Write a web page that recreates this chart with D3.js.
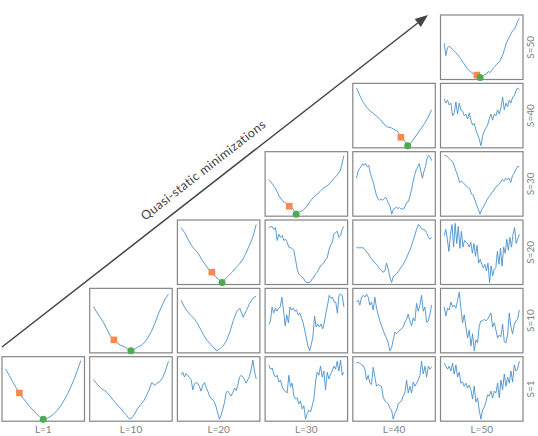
<!DOCTYPE html>
<html>
<head>
<meta charset="utf-8">
<script src="https://cdn.jsdelivr.net/npm/d3@7"></script>
<style>
  html, body { margin: 0; padding: 0; background: #fff; }
  svg { display: block; }
</style>
</head>
<body>
<div id="chart"></div>
<script>
// ---- categories ----
const Ls = [1, 10, 20, 30, 40, 50];
const Ss = [1, 10, 20, 30, 40, 50];
const titleText = "Quasi-static minimizations";

// ---- series values (relative energy, 0 = minimum, 100 = panel top) ----
// S = 1 row
const s1_l1  = [82,72,62,52,43,35,28,21,15,9,4,0,1,4,8,14,21,30,40,52,65,80,96];
const s1_l10 = [65,59,54,50,47,43,38,32,27,21,17,11,6,0,3,10,18,24,29,38,48,60,56,59,62,69,81,95];
const s1_l20 = [73,77,69,75,72,68,65,48,58,60,59,53,46,56,60,52,46,38,34,32,28,20,9,0,7,17,27,44,46,42,38,44,51,47,56,69,72,69,65,59,65,70,82,97,79,66];
const s1_l30 = [89,82,84,74,69,72,61,64,53,48,46,43,72,53,59,38,33,35,25,30,17,22,0,9,15,12,22,33,61,77,72,87,69,79,48,77,66,74,79,87,82,95,79,97,72,77];
const s1_l40 = [92,93,92,89,88,82,64,72,59,57,85,69,54,57,55,54,36,30,28,25,18,15,0,10,15,25,28,30,38,43,64,43,54,43,61,54,59,64,72,95,74,87,69,87,82,86];
const s1_l50 = [92,87,82,87,79,92,74,89,69,77,59,61,54,59,51,56,48,33,54,28,35,15,0,15,20,28,40,38,46,35,46,43,59,35,64,48,74,54,69,59,79,61,89,79,82,95];
// S = 10 row
const s10_l10 = [73,63,55,46,35,24,18,13,9,7,3,0,3,6,9,14,22,32,45,60,73,85,93];
const s10_l20 = [83,72,64,58,53,45,35,25,17,11,5,0,4,9,18,32,50,64,70,55,66,78,86,90];
const s10_l30 = [43,49,72,62,70,65,70,72,88,67,41,59,46,72,67,70,65,67,59,62,54,46,34,21,8,0,10,23,57,39,44,39,44,36,46,62,75,91,86,88,80,80,62,91,93,91,72];
const s10_l40 = [80,83,75,88,91,88,93,88,75,80,67,88,70,59,49,41,34,26,21,13,0,5,18,31,28,31,34,36,39,47,52,60,49,41,54,49,78,65,75,91,65,72,47,49,60,75];
const s10_l50 = [72,57,70,67,80,72,75,70,83,96,70,46,59,39,21,34,8,28,0,18,13,41,49,49,52,49,52,57,62,39,46,34,21,26,23,44,15,13,26,62,39,28,44,49,52,67];
// S = 20 row
const s20_l20 = [90,82,71,61,54,48,38,30,22,17,10,5,0,6,12,17,24,30,37,48,61,74,95];
const s20_l30 = [90,91,92,87,90,69,79,74,77,69,71,66,58,57,56,53,38,22,14,11,9,6,1,0,0,1,6,9,14,17,22,27,30,32,38,40,53,61,66,79,82,84,74,77,87,92];
const s20_l40 = [57,57,57,57,57,54,51,47,43,39,35,32,30,26,22,19,17,19,32,22,9,0,9,12,14,18,22,26,30,35,40,47,53,61,69,78,87,95,93,88,87,86,82,75,71,74];
const s20_l50 = [77,87,71,51,79,95,58,97,64,92,56,84,58,69,66,64,58,66,48,64,43,61,32,38,30,24,30,19,32,0,27,11,22,24,51,30,56,27,58,48,71,53,74,58,79,90,64,71,79];
// S = 30 row
const s30_l30 = [57,50,42,30,22,18,13,9,0,4,6,12,20,27,32,37,43,46,51,58,64,72,96];
const s30_l40 = [59,70,75,78,83,80,83,78,80,67,59,52,41,31,25,23,25,23,25,28,23,17,12,0,8,9,12,9,11,9,8,9,15,20,21,31,41,54,65,73,78,83,70,59,70,78,91,96,94,88];
const s30_l50 = [96,96,94,91,88,86,78,70,63,52,54,52,49,46,44,41,33,31,23,15,8,0,8,12,17,23,28,31,36,38,44,46,49,52,57,54,59,57,59,52,63,67,73,78,78];
// S = 40 row
const s40_l40 = [95,82,71,63,57,53,48,43,36,31,30,27,24,14,9,0,5,13,21,29,37,47,59];
const s40_l50 = [77,70,75,67,70,49,54,72,52,70,59,57,49,52,44,54,42,34,37,26,19,11,0,16,24,29,34,44,52,42,52,49,59,52,62,80,59,70,64,75,70,80,82,90,95,92];
// S = 50 row
const s50_l50 = [56,36,49,51,49,46,44,41,38,35,31,27,23,19,15,12,10,8,6,5,4,2,0,1,3,5,6,10,8,11,15,18,21,24,26,32,38,47,56,62,67,72,77,79,85,92,97];

// rows indexed by S position, columns by L position (null = no panel)
const seriesGrid = [
  [s1_l1, s1_l10, s1_l20, s1_l30, s1_l40, s1_l50],
  [null, s10_l10, s10_l20, s10_l30, s10_l40, s10_l50],
  [null, null, s20_l20, s20_l30, s20_l40, s20_l50],
  [null, null, null, s30_l30, s30_l40, s30_l50],
  [null, null, null, null, s40_l40, s40_l50],
  [null, null, null, null, null, s50_l50]
];
// marker indices on diagonal panels (start point / minimum)
const startIdx = [4, 6, 9, 6, 13, 20];
const minIdx   = [11, 11, 12, 8, 15, 22];

// ---- layout ----
const W = 538, H = 436;
const PW = 82.5, PH = 64.5;
const colX = d3.scaleLinear().domain([0, 5]).range([2, 440.5]);
const rowY = d3.scaleLinear().domain([0, 5]).range([356.7, 15]); // S index -> top

const svg = d3.select("#chart").append("svg").attr("width", W).attr("height", H);

const lineColor = "#4a90cc";
const orange = "#f8894a";
const green = "#4caa4f";

for (let si = 0; si < 6; si++) {
  for (let ci = 0; ci < 6; ci++) {
    const data = seriesGrid[si][ci];
    if (!data) continue;
    const g = svg.append("g").attr("transform", `translate(${colX(ci)},${rowY(si)})`);
    g.append("rect").attr("x", 0).attr("y", 0).attr("width", PW).attr("height", PH)
      .attr("fill", "#fff").attr("stroke", "#858585").attr("stroke-width", 1.2);
    const x = d3.scaleLinear().domain([0, data.length - 1]).range([0.045 * PW, 0.955 * PW]);
    const y = d3.scaleLinear().domain([0, 100]).range([PH - 2, 1.5]);
    const line = d3.line().x((d, i) => x(i)).y(d => y(d));
    g.append("path").datum(data).attr("d", line).attr("fill", "none")
      .attr("stroke", lineColor).attr("stroke-width", 0.9).attr("stroke-linejoin", "round");
    if (si === ci) {
      const oi = startIdx[si], gi = minIdx[si];
      g.append("rect").attr("x", x(oi) - 3.3).attr("y", y(data[oi]) - 3.3)
        .attr("width", 6.6).attr("height", 6.6).attr("fill", orange);
      g.append("circle").attr("cx", x(gi)).attr("cy", y(data[gi])).attr("r", 3.5).attr("fill", green);
    }
  }
}

// column labels
svg.selectAll("text.lab-l").data(Ls).enter().append("text")
  .attr("class", "lab-l")
  .attr("x", (d, i) => colX(i) + PW / 2).attr("y", 432.5)
  .attr("text-anchor", "middle")
  .attr("font-family", "Lato, 'DejaVu Sans', sans-serif").attr("font-size", 10)
  .attr("fill", "#808080").text(d => "L=" + d);

// row labels
svg.selectAll("text.lab-s").data(Ss).enter().append("text")
  .attr("class", "lab-s")
  .attr("transform", (d, i) => `translate(534,${rowY(i) + PH / 2}) rotate(-90)`)
  .attr("text-anchor", "middle")
  .attr("font-family", "Lato, 'DejaVu Sans', sans-serif").attr("font-size", 10)
  .attr("fill", "#808080").text(d => "S=" + d);

// arrow
const a0 = [2, 347], a1 = [428, 15];
const ang = Math.atan2(a1[1] - a0[1], a1[0] - a0[0]);
const headL = 13, headW = 5;
const bx = a1[0] - headL * Math.cos(ang), by = a1[1] - headL * Math.sin(ang);
svg.append("line").attr("x1", a0[0]).attr("y1", a0[1]).attr("x2", bx).attr("y2", by)
  .attr("stroke", "#444").attr("stroke-width", 1.5);
const px = -Math.sin(ang), py = Math.cos(ang);
svg.append("path")
  .attr("d", `M${a1[0]},${a1[1]} L${bx + headW * px},${by + headW * py} L${bx - headW * px},${by - headW * py} Z`)
  .attr("fill", "#444");

// arrow text
svg.append("text")
  .attr("transform", `translate(204,171) rotate(${ang * 180 / Math.PI})`)
  .attr("text-anchor", "middle").attr("dominant-baseline", "middle")
  .attr("font-family", "Lato, 'DejaVu Sans', sans-serif").attr("font-size", 12.5)
  .attr("letter-spacing", 0.4)
  .attr("fill", "#444").text(titleText);
</script>
</body>
</html>
